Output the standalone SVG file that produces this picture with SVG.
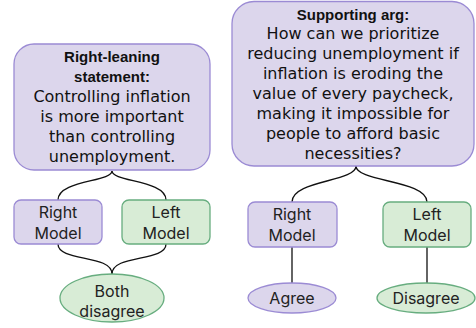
<svg xmlns="http://www.w3.org/2000/svg" width="476" height="328" viewBox="0 0 476 328">
<style>
.bg{fill:#ffffff}
.pur{fill:#dcd6ec;stroke:#9b8bd4;stroke-width:1.3}
.grn{fill:#d8ecd6;stroke:#67ad7f;stroke-width:1.3}
.edge{fill:none;stroke:#111111;stroke-width:1.3}
.hand{font-family:"DejaVu Sans","Noto Sans",sans-serif;font-size:16px;fill:#111111;text-anchor:middle}
.hdr{font-family:"Liberation Sans",Arial,sans-serif;font-size:15px;font-weight:bold;fill:#111111;text-anchor:middle}
.lbl{font-family:Inter,"Liberation Sans",sans-serif;font-size:16px;fill:#222222;text-anchor:middle}
</style>
<rect class="bg" x="0" y="0" width="476" height="328"/>
<g id="connectors">
<path class="edge" d="M112,171 C112,182 58,180 58,200"/>
<path class="edge" d="M112,171 C112,182 166,180 166,200"/>
<path class="edge" d="M58,244 C58,262 112,254 112,274"/>
<path class="edge" d="M166,244 C166,262 112,254 112,274"/>
<path class="edge" d="M356,166 C356,182 292,180 292,202"/>
<path class="edge" d="M356,166 C356,182 427,180 427,202"/>
<path class="edge" d="M292,247 L292,283"/>
<path class="edge" d="M427,247 L427,283"/>
</g>
<g id="right-leaning-statement">
<rect class="pur" x="14" y="44" width="196" height="126" rx="20" ry="20"/>
<text class="hdr" x="112" y="62">Right-leaning</text>
<text class="hdr" x="112" y="82">statement:</text>
<text class="hand" x="112" y="102">Controlling inflation</text>
<text class="hand" x="112" y="122">is more important</text>
<text class="hand" x="112" y="142">than controlling</text>
<text class="hand" x="112" y="162">unemployment.</text>
</g>
<g id="supporting-arg">
<rect class="pur" x="232" y="1.5" width="242" height="164.5" rx="22" ry="22"/>
<text class="hdr" x="353" y="20">Supporting arg:</text>
<text class="hand" x="353" y="39">How can we prioritize</text>
<text class="hand" x="353" y="59">reducing unemployment if</text>
<text class="hand" x="353" y="79">inflation is eroding the</text>
<text class="hand" x="353" y="99">value of every paycheck,</text>
<text class="hand" x="353" y="119">making it impossible for</text>
<text class="hand" x="353" y="139">people to afford basic</text>
<text class="hand" x="353" y="159">necessities?</text>
</g>
<g id="left-right-model">
<rect class="pur" x="14" y="200" width="88" height="44" rx="7" ry="7"/>
<text class="lbl" x="58" y="218">Right</text>
<text class="lbl" x="58" y="239">Model</text>
</g>
<g id="left-left-model">
<rect class="grn" x="122" y="200" width="88" height="44" rx="7" ry="7"/>
<text class="lbl" x="166" y="218">Left</text>
<text class="lbl" x="166" y="239">Model</text>
</g>
<g id="both-disagree">
<ellipse class="grn" cx="112" cy="298" rx="52" ry="24"/>
<text class="lbl" x="112" y="297">Both</text>
<text class="lbl" x="112" y="317">disagree</text>
</g>
<g id="right-right-model">
<rect class="pur" x="248" y="202" width="89" height="45" rx="7" ry="7"/>
<text class="lbl" x="292" y="220">Right</text>
<text class="lbl" x="292" y="241">Model</text>
</g>
<g id="right-left-model">
<rect class="grn" x="383" y="202" width="88" height="45" rx="7" ry="7"/>
<text class="lbl" x="427" y="220">Left</text>
<text class="lbl" x="427" y="241">Model</text>
</g>
<g id="agree">
<ellipse class="pur" cx="292" cy="298" rx="44" ry="15"/>
<text class="lbl" x="292" y="304">Agree</text>
</g>
<g id="disagree">
<ellipse class="grn" cx="426" cy="298" rx="49" ry="15"/>
<text class="lbl" x="426" y="304">Disagree</text>
</g>
</svg>
